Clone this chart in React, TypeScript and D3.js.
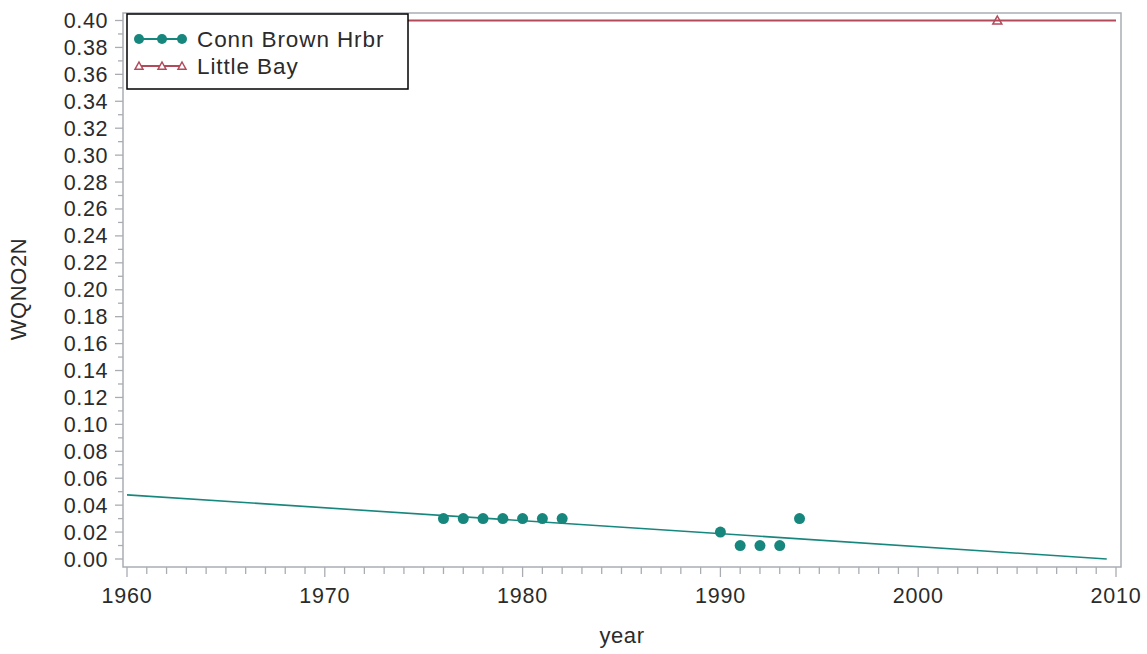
import React from "react";
import * as d3 from "d3";

const connYears = [1976, 1977, 1978, 1979, 1980, 1981, 1982, 1990, 1991, 1992, 1993, 1994];
const connValues = [0.03, 0.03, 0.03, 0.03, 0.03, 0.03, 0.03, 0.02, 0.01, 0.01, 0.01, 0.03];
const littleYears = [2004];
const littleValues = [0.4];
const yTicks = d3.range(0, 0.4001, 0.02);
const xTicks = [1960, 1970, 1980, 1990, 2000, 2010];

const W = 1147, H = 654;
const TEAL = "#17877d";
const RED = "#b24a5a";
const AXIS = "#a9adb2";
const TEXT = "#2b2b2b";
const FONT = "'Liberation Sans', Arial, sans-serif";

function regress(xs: number[], ys: number[]) {
  const n = xs.length;
  const mx = d3.mean(xs)!, my = d3.mean(ys)!;
  if (n < 2) return { slope: 0, intercept: my };
  let sxy = 0, sxx = 0;
  xs.forEach((x, i) => { sxy += (x - mx) * (ys[i] - my); sxx += (x - mx) ** 2; });
  const slope = sxy / sxx;
  return { slope, intercept: my - slope * mx };
}

export default function App() {
  const x = d3.scaleLinear().domain([1960, 2010]).range([127, 1116]);
  const y = d3.scaleLinear().domain([0, 0.4]).range([559, 20.5]);
  const frame = { l: 123, t: 13, r: 1121, b: 567 };

  const rc = regress(connYears, connValues);
  // line clipped where it reaches 0
  const xEndC = Math.min(2010, -rc.intercept / rc.slope);
  const rl = regress(littleYears, littleValues);

  const minorX = d3.range(1960, 2011, 1);
  const minorY = d3.range(0, 0.4001, 0.01);

  const tri = (cx: number, cy: number, s = 4.5) =>
    `M${cx},${cy - s} L${cx + s},${cy + s * 0.8} L${cx - s},${cy + s * 0.8} Z`;

  return (
    <svg width={W} height={H} style={{ position: "absolute", left: 0, top: 0, background: "#fff" }} fontFamily={FONT}>
      {/* frame */}
      <rect x={frame.l} y={frame.t} width={frame.r - frame.l} height={frame.b - frame.t} fill="none" stroke={AXIS} strokeWidth={1.5} />
      {/* y ticks */}
      {minorY.map((v, i) => (
        <line key={"my" + i} x1={i % 2 === 0 ? 115 : 118} x2={frame.l} y1={y(v)} y2={y(v)} stroke={AXIS} strokeWidth={1.3} />
      ))}
      {yTicks.map((v, i) => (
        <text key={"yt" + i} x={108} y={y(v) + 7.5} textAnchor="end" fontSize={21.5} fill={TEXT} letterSpacing={0.6}>
          {v.toFixed(2)}
        </text>
      ))}
      {/* x ticks */}
      {minorX.map((v) => (
        <line key={"mx" + v} x1={x(v)} x2={x(v)} y1={frame.b} y2={v % 10 === 0 ? 577 : 574} stroke={AXIS} strokeWidth={1.3} />
      ))}
      {xTicks.map((v) => (
        <text key={"xt" + v} x={x(v)} y={603} textAnchor="middle" fontSize={21.5} fill={TEXT} letterSpacing={0.8}>
          {v}
        </text>
      ))}
      {/* axis titles */}
      <text x={622} y={643} textAnchor="middle" fontSize={22} fill={TEXT} letterSpacing={0.6}>year</text>
      <text transform="translate(26,289) rotate(-90)" textAnchor="middle" fontSize={22} fill={TEXT} letterSpacing={0.6}>WQNO2N</text>

      {/* regression lines */}
      <line x1={x(1960)} y1={y(rc.intercept + rc.slope * 1960)} x2={x(xEndC)} y2={y(rc.intercept + rc.slope * xEndC)} stroke={TEAL} strokeWidth={1.6} />
      <line x1={x(1960)} y1={y(rl.intercept + rl.slope * 1960)} x2={x(2010)} y2={y(rl.intercept + rl.slope * 2010)} stroke={RED} strokeWidth={1.8} />

      {/* points */}
      {connYears.map((yr, i) => (
        <circle key={"c" + yr} cx={x(yr)} cy={y(connValues[i])} r={5.5} fill={TEAL} />
      ))}
      {littleYears.map((yr, i) => (
        <path key={"l" + yr} d={tri(x(yr), y(littleValues[i]))} fill="none" stroke={RED} strokeWidth={1.5} />
      ))}

      {/* legend */}
      <rect x={127} y={14} width={281} height={75} fill="#fff" stroke="#000" strokeWidth={1.5} />
      <line x1={137} x2={183} y1={39} y2={39} stroke={TEAL} strokeWidth={1.8} />
      {[139, 162, 182].map((cx) => (
        <circle key={"lc" + cx} cx={cx} cy={39} r={5} fill={TEAL} />
      ))}
      <text x={197} y={47} fontSize={22.5} fill={TEXT} letterSpacing={0.9}>Conn Brown Hrbr</text>
      <line x1={137} x2={183} y1={66} y2={66} stroke={RED} strokeWidth={1.8} />
      {[139, 162, 182].map((cx) => (
        <path key={"lt" + cx} d={tri(cx, 66, 4)} fill="#fff" stroke={RED} strokeWidth={1.5} />
      ))}
      <text x={197} y={74} fontSize={22.5} fill={TEXT} letterSpacing={0.9}>Little Bay</text>
    </svg>
  );
}
